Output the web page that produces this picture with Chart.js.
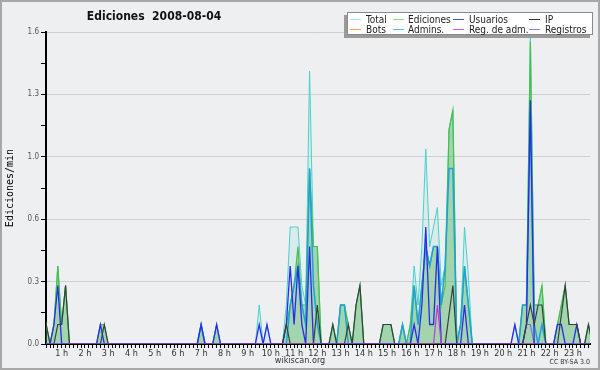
<!DOCTYPE html>
<html>
<head>
<meta charset="utf-8">
<script src="https://cdn.jsdelivr.net/npm/chart.js@4.4.1/dist/chart.umd.min.js"></script>
<style>
  html, body { margin: 0; padding: 0; background: #eeeff1; }
</style>
</head>
<body>
<canvas id="editsChart" width="600" height="370"></canvas>
<script>
// Ediciones por minuto, 2008-08-04 (wikiscan), one value per 10-minute bin, 0 h .. 23 h 50
const chartTitle = 'Ediciones  2008-08-04';
const seriesLabels = ['Total', 'Ediciones', 'Usuarios', 'IP', 'Bots', 'Admins.', 'Reg. de adm.', 'Registros'];

const total = [
  0,0,.1,0,.1,.4,  .1,.3,0,0,0,0,  0,0,0,0,.1,.1,  0,0,0,0,0,0,  0,0,0,0,0,0,  0,0,0,0,0,0,
  0,0,0,0,0,0,  .1,0,0,0,.1,0,  0,0,0,0,0,0,  0,0,0,.2,0,.1,  0,0,0,0,.2,.6,  .6,.6,.3,.2,1.4,.5,
  .5,0,0,0,.1,0,  .2,.2,.1,0,.2,.3,  0,0,0,0,0,.1,  .1,.1,0,0,.1,0,  .1,.4,.2,.5,1.0,.5,  .6,.7,.3,.4,1.1,1.2,
  0,.1,.6,.35,0,0,  0,0,0,0,0,0,  0,0,0,.1,0,.2,  .2,1.6,.2,.2,.3,0,  0,0,.1,.2,.3,.1,  .1,.1,0,0,.1,0
];
const ediciones = [
  0,0,.1,0,.1,.4,  .1,.3,0,0,0,0,  0,0,0,0,.1,.1,  0,0,0,0,0,0,  0,0,0,0,0,0,  0,0,0,0,0,0,
  0,0,0,0,0,0,  .1,0,0,0,.1,0,  0,0,0,0,0,0,  0,0,0,0,0,0,  0,0,0,0,.1,.2,  .3,.5,.2,.2,.9,.5,
  .5,0,0,0,.1,0,  .2,.2,.1,0,.2,.3,  0,0,0,0,0,.1,  .1,.1,0,0,.1,0,  .1,.3,.1,.3,.5,.4,  .5,.5,.2,.3,1.1,1.2,
  0,.1,.4,.2,0,0,  0,0,0,0,0,0,  0,0,0,0,0,.2,  .2,1.55,.2,.2,.3,0,  0,0,.1,.2,.3,.1,  .1,.1,0,0,.1,0
];
const usuarios = [
  0,0,0,0,.1,.3,  0,0,0,0,0,0,  0,0,0,0,.1,0,  0,0,0,0,0,0,  0,0,0,0,0,0,  0,0,0,0,0,0,
  0,0,0,0,0,0,  .1,0,0,0,.1,0,  0,0,0,0,0,0,  0,0,0,.1,0,.1,  0,0,0,0,.1,.4,  .1,.4,.1,0,.5,0,
  0,0,0,0,0,0,  0,0,0,0,0,0,  0,0,0,0,0,0,  0,0,0,0,0,0,  0,.1,0,.2,.6,.1,  .1,.5,0,0,0,0,
  0,0,.2,0,0,0,  0,0,0,0,0,0,  0,0,0,.1,0,0,  .1,1.25,0,0,0,0,  0,0,.1,.1,0,0,  0,.1,0,0,0,0
];
const ip = [
  0,0,.1,0,0,.1,  .1,.3,0,0,0,0,  0,0,0,0,0,.1,  0,0,0,0,0,0,  0,0,0,0,0,0,  0,0,0,0,0,0,
  0,0,0,0,0,0,  0,0,0,0,0,0,  0,0,0,0,0,0,  0,0,0,0,0,0,  0,0,0,0,.1,0,  0,0,0,0,0,0,
  .2,0,0,0,.1,0,  0,0,.1,0,.2,.3,  0,0,0,0,0,.1,  .1,.1,0,0,0,0,  0,0,0,0,0,0,  0,0,0,0,.15,.3,
  0,0,0,0,0,0,  0,0,0,0,0,0,  0,0,0,0,0,0,  .1,.2,.1,.2,.2,0,  0,0,0,.15,.3,.1,  .1,.1,0,0,.1,0
];
const bots = [
  0,0,0,0,0,0,  0,0,0,0,0,0,  0,0,0,0,0,0,  0,0,0,0,0,0,  0,0,0,0,0,0,  0,0,0,0,0,0,
  0,0,0,0,0,0,  0,0,0,0,0,0,  0,0,0,0,0,0,  0,0,0,0,0,0,  0,0,0,0,0,0,  0,0,0,0,0,0,
  0,0,0,0,0,0,  0,0,0,0,0,0,  0,0,0,0,0,0,  0,0,0,0,0,0,  0,0,0,0,0,0,  0,0,0,0,0,0,
  0,0,0,0,0,0,  0,0,0,0,0,0,  0,0,0,0,0,0,  0,0,0,0,0,0,  0,0,0,0,0,0,  0,0,0,0,0,0
];
const admins = [
  0,0,0,0,0,0,  0,0,0,0,0,0,  0,0,0,0,0,0,  0,0,0,0,0,0,  0,0,0,0,0,0,  0,0,0,0,0,0,
  0,0,0,0,0,0,  .1,0,0,0,0,0,  0,0,0,0,0,0,  0,0,0,0,0,0,  0,0,0,0,0,.2,  .3,.4,.2,.1,.9,.3,
  .1,0,0,0,0,0,  .2,.2,0,0,0,0,  0,0,0,0,0,0,  0,0,0,0,.1,0,  0,.3,.1,.3,.5,.4,  .5,.5,.2,.4,.9,.9,
  0,.1,.4,.2,0,0,  0,0,0,0,0,0,  0,0,0,0,0,.2,  .2,1.2,.1,0,.1,0,  0,0,0,0,0,0,  0,0,0,0,0,0
];
const regAdm = [
  0,0,0,0,0,0,  0,0,0,0,0,0,  0,0,0,0,0,0,  0,0,0,0,0,0,  0,0,0,0,0,0,  0,0,0,0,0,0,
  0,0,0,0,0,0,  0,0,0,0,0,0,  0,0,0,0,0,0,  0,0,0,0,0,0,  0,0,0,0,0,0,  0,0,0,0,0,0,
  0,0,0,0,0,0,  0,0,0,0,0,0,  0,0,0,0,0,0,  0,0,0,0,0,0,  0,0,0,0,0,0,  0,.2,0,0,0,0,
  0,0,0,0,0,0,  0,0,0,0,0,0,  0,0,0,0,0,0,  0,0,0,0,0,0,  0,0,0,0,0,0,  0,0,0,0,0,0
];
const registros = [
  0,0,0,0,0,0,  0,0,0,0,0,0,  0,0,0,0,0,0,  0,0,0,0,0,0,  0,0,0,0,0,0,  0,0,0,0,0,0,
  0,0,0,0,0,0,  0,0,0,0,0,0,  0,0,0,0,0,0,  0,0,0,0,0,0,  0,0,0,0,0,0,  0,0,0,0,0,0,
  0,0,0,0,0,0,  0,0,0,0,0,0,  0,0,0,0,0,0,  0,0,0,0,0,0,  0,0,0,0,0,0,  0,0,0,0,0,0,
  0,0,0,0,0,0,  0,0,0,0,0,0,  0,0,0,0,0,0,  .1,.1,0,0,0,0,  0,0,0,0,0,0,  0,0,0,0,0,0
];

const FONT = '"DejaVu Sans Condensed", "DejaVu Sans", sans-serif';
// legend swatches are drawn paler than the plotted lines
const legendColors = ['#a8e6e4', '#8fd48f', '#4a4ae0', '#333333', '#ffa448', '#4cc4dc', '#d45ad4', '#8484ee'];
const toPoints = arr => arr.map((v, i) => ({ x: i, y: v }));

function lineSet(label, data, color, width, order, fillColor) {
    return {
        label: label,
        data: toPoints(data),
        borderColor: color,
        backgroundColor: fillColor || color,
        fill: fillColor ? 'origin' : false,
        borderWidth: width,
        pointRadius: 0,
        tension: 0,
        order: order,
        clip: 0
    };
}

// background, frame, title, footer and the boxed legend
const decor = {
    id: 'decor',
    beforeDraw(chart) {
        const c = chart.ctx;
        c.save();
        c.fillStyle = '#eeeff1';
        c.fillRect(0, 0, chart.width, chart.height);
        c.strokeStyle = '#a8a8a8';
        c.lineWidth = 2;
        c.strokeRect(1, 1, chart.width - 2, chart.height - 2);
        c.restore();
    },
    afterDraw(chart) {
        const c = chart.ctx;
        c.save();
        c.textBaseline = 'middle';
        c.fillStyle = '#111';
        c.textAlign = 'center';
        c.font = 'bold 12px ' + FONT;
        c.fillText(chartTitle, 154, 17);
        c.fillStyle = '#333';
        c.font = '9px ' + FONT;
        c.fillText('wikiscan.org', 300, 361);
        c.textAlign = 'right';
        c.font = '7px ' + FONT;
        c.fillText('CC BY-SA 3.0', 590, 362);

        // legend box
        c.fillStyle = '#9a9a9a';
        c.fillRect(344, 15, 246, 23);
        c.fillStyle = '#ffffff';
        c.fillRect(347, 12, 246, 23);
        c.strokeStyle = '#8a8a8a';
        c.lineWidth = 1;
        c.strokeRect(347.5, 12.5, 245, 22);
        const swX = [350, 393, 453, 529];
        const txX = [366, 408, 469, 545];
        const rowY = [19, 29];
        c.textAlign = 'left';
        c.font = '10px ' + FONT;
        chart.data.datasets.forEach((ds, i) => {
            const col = i % 4, row = Math.floor(i / 4);
            c.strokeStyle = legendColors[i];
            c.lineWidth = 1;
            c.beginPath();
            c.moveTo(swX[col], rowY[row] + 0.5);
            c.lineTo(swX[col] + 11, rowY[row] + 0.5);
            c.stroke();
            c.fillStyle = '#222';
            c.fillText(ds.label, txX[col], rowY[row] + 1);
        });
        c.restore();
    }
};

const ctx = document.getElementById('editsChart').getContext('2d');
const editsChart = new Chart(ctx, {
    type: 'line',
    data: {
        datasets: [
            lineSet(seriesLabels[0], total, '#48d2cc', 1, 8, 'rgba(72,208,204,0.12)'),
            lineSet(seriesLabels[1], ediciones, '#48c048', 1.2, 7, 'rgba(70,175,70,0.38)'),
            lineSet(seriesLabels[2], usuarios, '#2b2bea', 1.3, 3),
            lineSet(seriesLabels[3], ip, '#34403a', 1.2, 2),
            lineSet(seriesLabels[4], bots, '#ff9a30', 1, 6),
            lineSet(seriesLabels[5], admins, '#1ea2d6', 1.5, 4),
            lineSet(seriesLabels[6], regAdm, '#c23ad0', 1.2, 1),
            lineSet(seriesLabels[7], registros, '#6f6ff0', 1.2, 5)
        ]
    },
    options: {
        responsive: false,
        animation: false,
        devicePixelRatio: 1,
        layout: { padding: { top: 32, right: 10, bottom: 0, left: 0 } },
        plugins: {
            legend: { display: false },
            title: { display: false },
            tooltip: { enabled: false }
        },
        scales: {
            x: {
                type: 'linear',
                min: 1.95,
                max: 142.4,
                z: 1,
                border: { color: '#000', width: 2 },
                grid: { drawOnChartArea: false, tickLength: 4, color: '#000' },
                ticks: {
                    stepSize: 1,
                    autoSkip: false,
                    includeBounds: false,
                    maxRotation: 0,
                    padding: 0,
                    color: '#333',
                    font: { family: FONT, size: 9 },
                    callback: v => (v % 6 === 0 ? (v / 6) + ' h' : '')
                },
                afterFit: s => { s.height = 26; }
            },
            y: {
                min: 0,
                max: 1.6,
                border: { color: '#000', width: 2 },
                grid: {
                    color: c => (c.index % 2 === 0 ? '#cfcfd2' : 'rgba(0,0,0,0)'),
                    tickColor: '#000',
                    tickLength: 5
                },
                ticks: {
                    stepSize: 0.16,
                    padding: 2,
                    color: '#555',
                    font: { family: FONT, size: 8 },
                    callback: (v, i) => (i % 2 === 0 ? v.toFixed(1) : '')
                },
                title: {
                    display: true,
                    text: 'Ediciones/min',
                    color: '#000',
                    font: { family: '"DejaVu Sans Mono", monospace', size: 10 }
                },
                afterFit: s => { s.width = 46; }
            }
        }
    },
    plugins: [decor]
});
</script>
</body>
</html>
